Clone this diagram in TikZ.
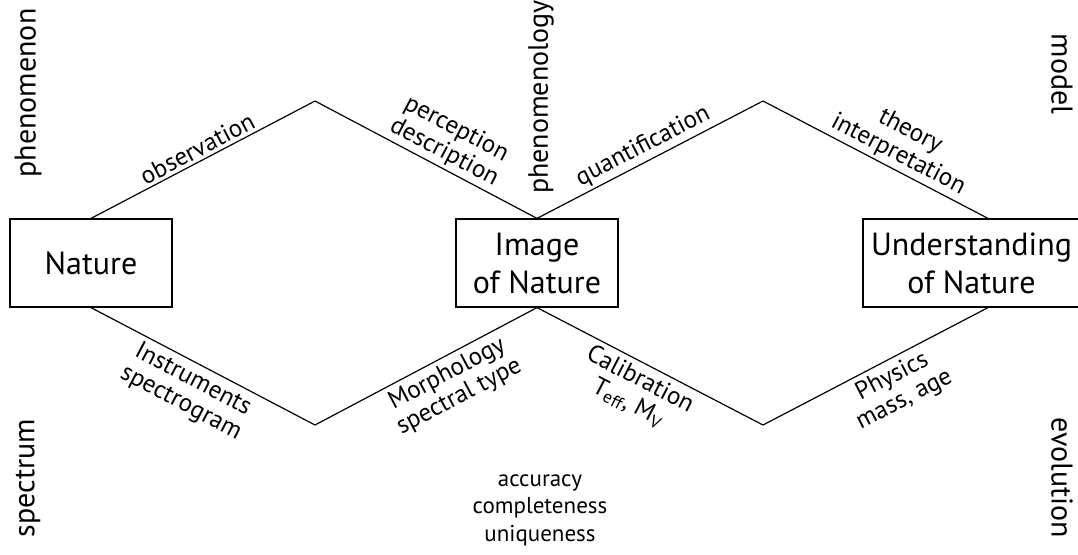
\documentclass[tikz,border=0pt]{standalone}
\usepackage{fontspec}
\setmainfont{PT Sans}
\usepackage{tikz}
\usetikzlibrary{positioning}

\begin{document}
\begin{tikzpicture}[x=1pt, y=-1pt,
  box/.style={rectangle, draw=black, line width=1.2pt, minimum height=88pt, align=center, font=\fontsize{32}{38}\selectfont},
  edge/.style={line width=1.2pt, color=black},
  lbl/.style={sloped, align=center, inner sep=3pt, font=\fontsize{25}{26}\selectfont},
  side/.style={font=\fontsize{30}{32}\selectfont}]
\useasboundingbox (0,0) rectangle (1078,554);
\node (1) [box, minimum width=162pt] at (91,263) {Nature};
\node (2) [box, minimum width=162pt] at (537,263) {Image\\of Nature};
\node (3) [box, minimum width=217pt] at (971.5,263) {Understanding\\of Nature};
\coordinate (4) at (315,101);
\coordinate (5) at (763,101);
\coordinate (6) at (315,425);
\coordinate (7) at (763,425);
\coordinate (8) at ([xshift=16.5pt]3.north);
\coordinate (9) at ([xshift=16.5pt]3.south);
\draw [edge] (1.north) to node [lbl, above] {observation} (4);
\draw [edge] (4) to node [lbl, above, pos=0.55] {perception\\description} (2.north);
\draw [edge] (2.north) to node [lbl, above] {quantification} (5);
\draw [edge] (5) to node [lbl, above, pos=0.57] {theory\\interpretation} (8);
\draw [edge] (1.south) to node [lbl, below, inner sep=5pt, pos=0.49] {Instruments\\spectrogram} (6);
\draw [edge] (6) to node [lbl, below, inner sep=5pt, pos=0.56] {Morphology\\spectral type} (2.south);
\draw [edge] (2.south) to node [lbl, below, inner sep=5pt, pos=0.49] {Calibration\\T\textsubscript{eff}, M\textsubscript{V}} (7);
\draw [edge] (7) to node [lbl, below, inner sep=5pt, pos=0.54] {Physics\\mass, age} (9);
\node (10) [side, rotate=90] at (28,93) {phenomenon};
\node (11) [side, rotate=90] at (28,478) {spectrum};
\node (12) [side, rotate=90, font=\fontsize{28}{30}\selectfont] at (541,97) {phenomenology};
\node (13) [side, rotate=-90] at (1062,74) {model};
\node (14) [side, rotate=-90] at (1062,478) {evolution};
\node (15) [align=center, font=\fontsize{23}{27.5}\selectfont] at (540,510) {accuracy\\completeness\\uniqueness};
\end{tikzpicture}
\end{document}
